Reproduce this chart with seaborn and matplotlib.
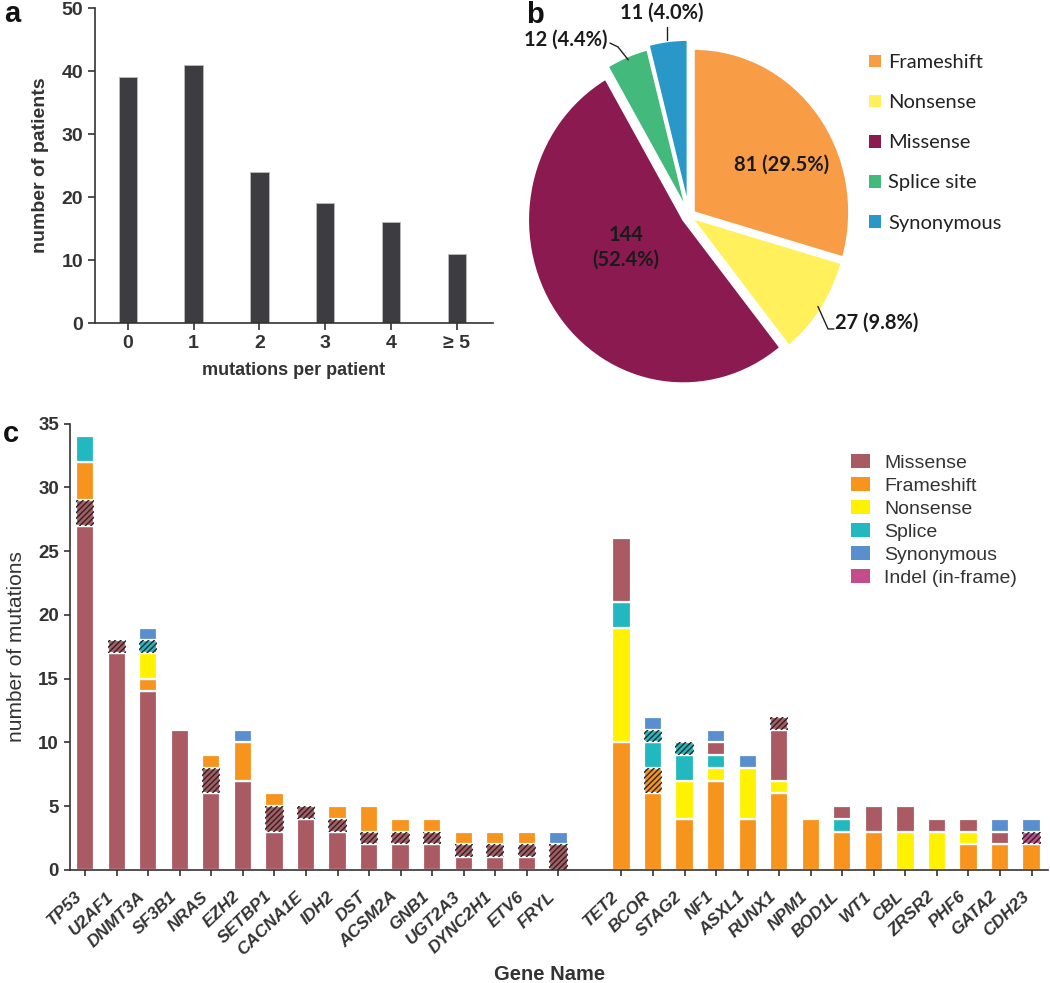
import numpy as np
import matplotlib
matplotlib.use("Agg")
import matplotlib.pyplot as plt
import matplotlib.patches as mpatches
import matplotlib.transforms as mtransforms
import seaborn as sns

# ── panel a: mutations per patient ────────────────────────────────
MUT_PER_PATIENT = ["0", "1", "2", "3", "4", "\u2265 5"]
N_PATIENTS = [39, 41, 24, 19, 16, 11]

# ── panel b: mutation types (pie) ─────────────────────────────────
PIE_LABELS = ["Frameshift", "Nonsense", "Missense", "Splice site", "Synonymous"]
PIE_COUNTS = [81, 27, 144, 12, 11]
PIE_PCT = [29.5, 9.8, 52.4, 4.4, 4.0]

# ── panel c: mutations per gene (stacked) ─────────────────────────
LEFT_GENES = ["TP53", "U2AF1", "DNMT3A", "SF3B1", "NRAS", "EZH2", "SETBP1", "CACNA1E",
              "IDH2", "DST", "ACSM2A", "GNB1", "UGT2A3", "DYNC2H1", "ETV6", "FRYL"]
L_MISSENSE   = [27, 17, 14, 11, 6, 7, 3, 4, 3, 2, 2, 2, 1, 1, 1, 0]
L_MISSENSE_H = [2, 1, 0, 0, 2, 0, 2, 1, 1, 1, 1, 1, 1, 1, 1, 2]
L_FRAMESHIFT = [3, 0, 1, 0, 1, 3, 1, 0, 1, 2, 1, 1, 1, 1, 1, 0]
L_NONSENSE   = [0, 0, 2, 0, 0, 0, 0, 0, 0, 0, 0, 0, 0, 0, 0, 0]
L_SPLICE     = [2, 0, 0, 0, 0, 0, 0, 0, 0, 0, 0, 0, 0, 0, 0, 0]
L_SPLICE_H   = [0, 0, 1, 0, 0, 0, 0, 0, 0, 0, 0, 0, 0, 0, 0, 0]
L_SYNONYMOUS = [0, 0, 1, 0, 0, 1, 0, 0, 0, 0, 0, 0, 0, 0, 0, 1]

RIGHT_GENES = ["TET2", "BCOR", "STAG2", "NF1", "ASXL1", "RUNX1", "NPM1", "BOD1L",
               "WT1", "CBL", "ZRSR2", "PHF6", "GATA2", "CDH23"]
R_FRAMESHIFT   = [10, 6, 4, 7, 4, 6, 4, 3, 3, 0, 0, 2, 2, 2]
R_FRAMESHIFT_H = [0, 2, 0, 0, 0, 0, 0, 0, 0, 0, 0, 0, 0, 0]
R_NONSENSE     = [9, 0, 3, 1, 4, 1, 0, 0, 0, 3, 3, 1, 0, 0]
R_SPLICE       = [2, 2, 2, 1, 0, 0, 0, 1, 0, 0, 0, 0, 0, 0]
R_SPLICE_H     = [0, 1, 1, 0, 0, 0, 0, 0, 0, 0, 0, 0, 0, 0]
R_MISSENSE     = [5, 0, 0, 1, 0, 4, 0, 1, 2, 2, 1, 1, 1, 0]
R_MISSENSE_H   = [0, 0, 0, 0, 0, 1, 0, 0, 0, 0, 0, 0, 0, 0]
R_INDEL_H      = [0, 0, 0, 0, 0, 0, 0, 0, 0, 0, 0, 0, 0, 1]
R_SYNONYMOUS   = [0, 1, 0, 1, 1, 0, 0, 0, 0, 0, 0, 0, 1, 1]

C_LEGEND = ["Missense", "Frameshift", "Nonsense", "Splice", "Synonymous", "Indel (in-frame)"]

# colours
MIS_C, FS_C, NON_C = "#A95A62", "#F7941E", "#FFF200"
SPL_C, SYN_C, IND_C = "#22B8C0", "#5A8FCF", "#C44C8A"
PIE_COLORS = ["#F89C46", "#FFF05C", "#8A1A50", "#44B97C", "#2A97C9"]
BAR_A = "#3D3C41"
TXT = "#333333"

sns.set_theme(style="ticks")
plt.rcParams["font.family"] = ["Liberation Sans", "DejaVu Sans"]
plt.rcParams["hatch.linewidth"] = 1.0
plt.rcParams["axes.edgecolor"] = TXT
plt.rcParams["axes.labelcolor"] = TXT
plt.rcParams["xtick.color"] = TXT
plt.rcParams["ytick.color"] = TXT
plt.rcParams["text.color"] = TXT

W, H = 1050, 983
fig = plt.figure(figsize=(W / 100, H / 100), dpi=100)


def px_axes(l, t, r, b):
    return fig.add_axes([l / W, 1 - b / H, (r - l) / W, (b - t) / H])


# ── a ─────────────────────────────────────────────────────────────
ax_a = px_axes(95, 8, 493, 323)
sns.barplot(x=MUT_PER_PATIENT, y=N_PATIENTS, color=BAR_A, saturation=1, width=0.28,
            edgecolor="#bbbbbb", linewidth=0.6, ax=ax_a)
ax_a.set_xlim(-0.5, 5.55)
ax_a.set_ylim(0, 50)
ax_a.set_yticks(range(0, 51, 10))
ax_a.tick_params(axis="both", labelsize=14, width=1.2, length=5, direction="out")
for t in ax_a.get_xticklabels() + ax_a.get_yticklabels():
    t.set_fontweight("bold")
ax_a.set_xlabel("mutations per patient", fontsize=13, fontweight="bold", labelpad=7)
ax_a.set_ylabel("number of patients", fontsize=14, fontweight="bold", labelpad=9)
for s in ["left", "bottom"]:
    ax_a.spines[s].set_linewidth(1.2)
sns.despine(ax=ax_a)
fig.text(4 / W, 1 - 22 / H, "a", fontsize=21, fontweight="bold", color="#111111")

# ── b ─────────────────────────────────────────────────────────────
# slightly taller than wide, as in the original figure
SX, SY, CX, CY = 155.0, 163.0, 189.0, 216.0
ax_b = px_axes(500, 0, 1050, 420)
ax_b.pie(PIE_COUNTS, colors=PIE_COLORS, startangle=90, counterclock=False,
         explode=[0.04, 0.025, 0.045, 0.055, 0.08],
         wedgeprops=dict(edgecolor="white", linewidth=1.2))
ax_b.set_aspect("auto")
ax_b.set_xlim(-CX / SX, (550 - CX) / SX)
ax_b.set_ylim(-(420 - CY) / SY, CY / SY)
ax_b.axis("off")

fracs = np.array(PIE_COUNTS) / sum(PIE_COUNTS)
ends = 90 - np.cumsum(fracs) * 360
mids = np.deg2rad(ends + fracs * 180)
lab = [f"{c} ({p:.1f}%)" for c, p in zip(PIE_COUNTS, PIE_PCT)]
pie_font = dict(family=["Lato", "DejaVu Sans"], fontsize=14.5, color="#1a1a1a",
                fontweight="bold")

ax_b.text(0.60, 0.313, lab[0], ha="center", va="center", **pie_font)
ax_b.text(-0.406, -0.19, f"{PIE_COUNTS[2]}\n({PIE_PCT[2]:.1f}%)", ha="center", va="center",
          linespacing=1.3, **pie_font)

# nonsense leader
sx, sy = 1.0 * np.cos(mids[1]), 1.0 * np.sin(mids[1])
ax_b.plot([sx, 0.897, 0.935], [sy, -0.693, -0.693], color="#222222", lw=1)
ax_b.text(0.945, -0.656, lab[1], ha="left", va="center", **pie_font)
# splice leader
sx, sy = 1.035 * np.cos(mids[3]), 1.035 * np.sin(mids[3])
ax_b.plot([sx, -0.458, -0.51], [sy, 1.037, 1.061], color="#222222", lw=1)
ax_b.text(-0.523, 1.08, lab[3], ha="right", va="center", **pie_font)
# synonymous leader
sx = 1.13 * np.cos(mids[4])
ax_b.plot([sx, sx], [1.08, 1.16], color="#222222", lw=1)
ax_b.text(-0.174, 1.25, lab[4], ha="center", va="center", **pie_font)

pie_handles = [mpatches.Patch(facecolor=c, edgecolor="none") for c in PIE_COLORS]
fig.legend(pie_handles, PIE_LABELS, loc="upper left", bbox_to_anchor=(869 / W, 1 - 54 / H),
           frameon=False, prop=dict(family=["Lato", "DejaVu Sans"], size=14.5),
           handlelength=0.6, handleheight=0.6, handletextpad=0.35, labelspacing=1.15,
           borderpad=0, borderaxespad=0, labelcolor="#222222")
fig.text(526 / W, 1 - 23 / H, "b", fontsize=21, fontweight="bold", color="#111111")

# ── c ─────────────────────────────────────────────────────────────
ax_c = px_axes(70, 423.5, 1048, 870)
BAR_W = 0.58
left_x = np.arange(len(LEFT_GENES))
right_x = np.arange(len(RIGHT_GENES)) + len(LEFT_GENES) + 1


def stack(ax, xs, layers):
    bottom = np.zeros(len(xs))
    for vals, color, hatched in layers:
        vals = np.asarray(vals, dtype=float)
        m = vals > 0
        ax.bar(xs[m], vals[m], BAR_W, bottom=bottom[m], color=color,
               edgecolor="white", linewidth=1.6, zorder=2)
        if hatched:
            ax.bar(xs[m], vals[m], BAR_W, bottom=bottom[m], facecolor="none",
                   edgecolor="#262626", linewidth=0, hatch="//////", zorder=3)
        bottom += vals


stack(ax_c, left_x, [
    (L_MISSENSE, MIS_C, False), (L_MISSENSE_H, MIS_C, True),
    (L_FRAMESHIFT, FS_C, False), (L_NONSENSE, NON_C, False),
    (L_SPLICE, SPL_C, False), (L_SPLICE_H, SPL_C, True),
    (L_SYNONYMOUS, SYN_C, False),
])
stack(ax_c, right_x, [
    (R_FRAMESHIFT, FS_C, False), (R_FRAMESHIFT_H, FS_C, True),
    (R_NONSENSE, NON_C, False), (R_SPLICE, SPL_C, False), (R_SPLICE_H, SPL_C, True),
    (R_MISSENSE, MIS_C, False), (R_MISSENSE_H, MIS_C, True),
    (R_INDEL_H, IND_C, True), (R_SYNONYMOUS, SYN_C, False),
])

ax_c.set_xlim(-0.48, right_x[-1] + 0.52)
ax_c.set_ylim(0, 35)
ax_c.set_yticks(range(0, 36, 5))
ax_c.set_xticks(np.concatenate([left_x, right_x]))
ax_c.set_xticklabels(LEFT_GENES + RIGHT_GENES, rotation=44, ha="right",
                     fontsize=12.5, fontweight="bold", fontstyle="italic")
shift = mtransforms.ScaledTranslation(5 / 72, 0, fig.dpi_scale_trans)
for t in ax_c.get_xticklabels():
    t.set_transform(t.get_transform() + shift)
ax_c.tick_params(axis="both", width=1.2, length=4.5, direction="out")
ax_c.tick_params(axis="x", pad=9)
ax_c.tick_params(axis="y", labelsize=13.5)
for t in ax_c.get_yticklabels():
    t.set_fontweight("bold")
ax_c.set_ylabel("number of mutations", fontsize=15, labelpad=9)
ax_c.set_xlabel("Gene Name", fontsize=14.5, fontweight="bold")
ax_c.xaxis.set_label_coords(0.49, -0.235)
ax_c.xaxis.label.set_va("center")
for s in ["left", "bottom"]:
    ax_c.spines[s].set_linewidth(1.2)
sns.despine(ax=ax_c)

c_colors = [MIS_C, FS_C, NON_C, SPL_C, SYN_C, IND_C]
c_handles = [mpatches.Patch(facecolor=c, edgecolor="none") for c in c_colors]
fig.legend(c_handles, C_LEGEND, loc="upper left", bbox_to_anchor=(851 / W, 1 - 454 / H),
           frameon=False, fontsize=14, handlelength=1.0, handleheight=0.7,
           handletextpad=0.7, labelspacing=0.28, borderpad=0, borderaxespad=0,
           labelcolor=TXT)
fig.text(3 / W, 1 - 442 / H, "c", fontsize=21, fontweight="bold", color="#111111")

fig.savefig("out.png", dpi=100, facecolor="white")
